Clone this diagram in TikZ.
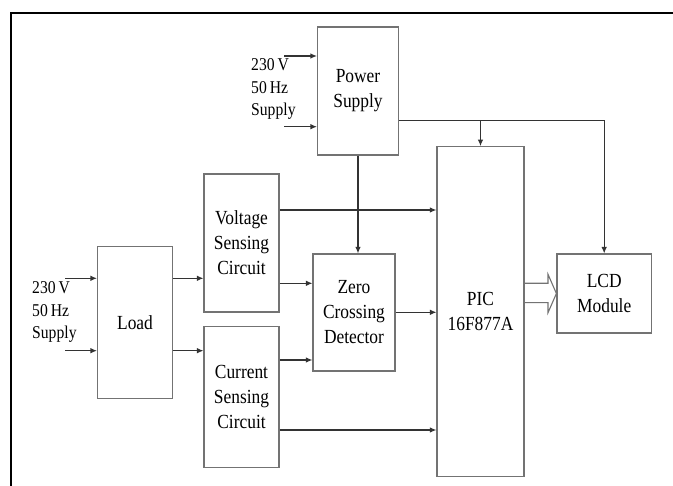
\documentclass[tikz,border=0pt]{standalone}
\usepackage{fontspec}
\setmainfont{Liberation Serif}[FakeStretch=0.87]
\usetikzlibrary{arrows.meta,positioning,calc}
\tikzset{
  blk/.style={rectangle, draw=black!55, line width=1.1pt, align=center,
              font=\fontsize{20}{25}\selectfont, inner sep=0pt, fill=white},
  lbl/.style={font=\fontsize{18}{22.3}\selectfont, align=left, inner sep=0pt, anchor=west},
  arrow/.style={-{Latex[length=6.5pt, width=5.5pt]}, line width=1.1pt, black!80},
  wire/.style={line width=1.1pt, black!80},
  bus/.style={line width=1.1pt, black!55},
  frame/.style={line width=2pt, black}
}
\begin{document}
\begin{tikzpicture}[x=1pt, y=-1pt]
  \useasboundingbox (0,0) rectangle (673,486);
  \draw[frame] (10.7,486) -- (10.7,12.7) -- (673,12.7);

  % blocks
  \node[blk, minimum width=81pt, minimum height=128pt] (ps) at (358,91) {Power\\Supply};
  \node[blk, minimum width=75pt, minimum height=152pt] (load) at (135,322.5) {Load};
  \node[blk, minimum width=75pt, minimum height=138pt] (vs) at (241.5,243) {Voltage\\Sensing\\Circuit};
  \node[blk, minimum width=75pt, minimum height=141pt] (cs) at (241.5,397) {Current\\Sensing\\Circuit};
  \node[blk, minimum width=82pt, minimum height=117pt] (zcd) at (354,312.5) {Zero\\Crossing\\Detector};
  \node[blk, minimum width=87pt, minimum height=330pt] (pic) at (480.5,311.7) {PIC\\16F877A};
  \node[blk, minimum width=94.5pt, minimum height=79pt] (lcd) at (604.2,293.5) {LCD\\Module};

  % supply labels
  \node[lbl] (pslbl) at (251,89) {230\,V\\50\,Hz\\Supply};
  \node[lbl] (ldlbl) at (32,312) {230\,V\\50\,Hz\\Supply};

  % mains inputs
  \coordinate (psin1) at (284,56);
  \coordinate (psin2) at (284,126.7);
  \coordinate (ldin1) at (65,278.3);
  \coordinate (ldin2) at (65,350.7);
  \draw[arrow] (psin1) -- (psin1 -| ps.west);
  \draw[arrow] (psin2) -- (psin2 -| ps.west);
  \draw[arrow] (ldin1) -- (ldin1 -| load.west);
  \draw[arrow] (ldin2) -- (ldin2 -| load.west);

  % signal paths
  \draw[arrow] (load.east |- ldin1) -- (vs.west |- ldin1);
  \draw[arrow] (load.east |- ldin2) -- (cs.west |- ldin2);
  \draw[arrow] (vs.east |- 0,283.3) -- (zcd.west |- 0,283.3);
  \draw[arrow] (cs.east |- 0,360) -- (zcd.west |- 0,360);
  \draw[arrow] (vs.east |- 0,210) -- (pic.west |- 0,210);
  \draw[arrow] (zcd.east |- 0,312.3) -- (pic.west |- 0,312.3);
  \draw[arrow] (cs.east |- 0,430) -- (pic.west |- 0,430);

  % power distribution
  \draw[arrow] (ps.east |- 0,120.7) -| (lcd.north);
  \draw[arrow] (pic.north |- 0,120.7) -- (pic.north);
  \draw[arrow] (ps.south) -- (ps.south |- zcd.north);

  % data bus to LCD
  \draw[bus, line join=miter] (pic.east |- 0,283.3) -- (548,283.3) -- (548,274.3)
    -- (lcd.west) -- (548,312.7) -- (548,302.7) -- (pic.east |- 0,302.7);
\end{tikzpicture}
\end{document}
